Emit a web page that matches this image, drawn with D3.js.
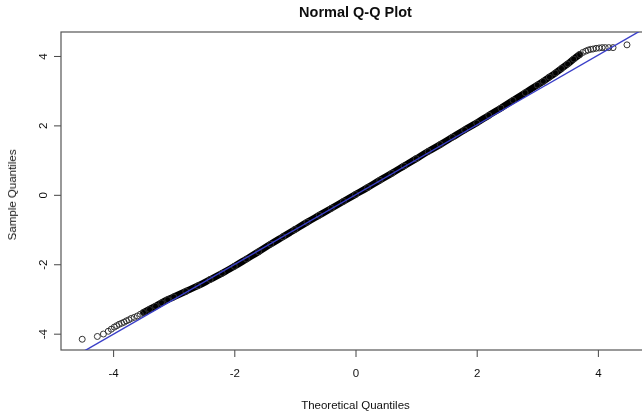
<!DOCTYPE html>
<html>
<head>
<meta charset="utf-8">
<script src="https://cdn.jsdelivr.net/npm/d3@7"></script>
<style>
  html, body { margin: 0; padding: 0; background: #fff; }
  svg { display: block; }
  text { font-family: "Liberation Sans", Arial, Helvetica, sans-serif; fill: #111; }
</style>
</head>
<body>
<svg id="chart" width="642" height="415"></svg>
<script>
// Normal Q-Q plot: theoretical normal quantiles against sample quantiles.
const theoretical = [
  -4.51, -4.26, -4.16, -4.08, -4.03, -3.98, -3.94, -3.90, -3.86, -3.82, -3.78, -3.74, -3.70,
  -3.65, -3.60, -3.55, -3.50, -3.40, -3.30, -3.20, -3.10, -3.00, -2.80, -2.60, -2.40, -2.20, -2.00,
  -1.80, -1.60, -1.40, -1.20, -1.00, -0.80, -0.60, -0.40, -0.20, 0.00,
  0.20, 0.40, 0.60, 0.80, 1.00, 1.20, 1.40, 1.60, 1.80, 2.00,
  2.20, 2.40, 2.60, 2.80, 3.00, 3.10, 3.20, 3.30, 3.40, 3.50, 3.60, 3.70,
  3.75, 3.80, 3.84, 3.88, 3.92, 3.97, 4.02, 4.07, 4.12, 4.18, 4.25, 4.48
];
const sample = [
  -4.16, -4.08, -4.01, -3.93, -3.87, -3.81, -3.77, -3.73, -3.70, -3.67, -3.63, -3.60, -3.56,
  -3.53, -3.49, -3.44, -3.39, -3.30, -3.21, -3.11, -3.02, -2.94, -2.78, -2.62, -2.44, -2.26, -2.06,
  -1.85, -1.64, -1.42, -1.21, -1.00, -0.79, -0.59, -0.39, -0.19, 0.01,
  0.21, 0.42, 0.62, 0.83, 1.04, 1.25, 1.45, 1.66, 1.87, 2.07,
  2.29, 2.50, 2.72, 2.94, 3.16, 3.27, 3.39, 3.51, 3.64, 3.77, 3.91, 4.04,
  4.10, 4.14, 4.17, 4.19, 4.20, 4.22, 4.23, 4.24, 4.24, 4.24, 4.24, 4.32
];
// Dense central stretch where the points merge into a solid band
const bandRange = [-3.50, 3.70];
// Reference line through the quartiles
const lineIntercept = 0.0;
const lineSlope = 1.005;

const xTicks = [-4, -2, 0, 2, 4];
const yTicks = [-4, -2, 0, 2, 4];
const titleText = "Normal Q-Q Plot";
const xTitle = "Theoretical Quantiles";
const yTitle = "Sample Quantiles";

const points = theoretical.map((t, i) => ({ t, s: sample[i] }));

const svg = d3.select("#chart");
const plot = { left: 61, right: 650, top: 32, bottom: 350 };

const x = d3.scaleLinear().domain([-4.86, 4.86]).range([plot.left, plot.right]);
const y = d3.scaleLinear().domain([-4.47, 4.69]).range([plot.bottom, plot.top]);

// Plain hyphen-minus tick labels
const tickFmt = d => String(d);

const defs = svg.append("defs");
defs.append("clipPath").attr("id", "plotClip")
  .append("rect")
  .attr("x", plot.left).attr("y", plot.top)
  .attr("width", plot.right - plot.left).attr("height", plot.bottom - plot.top);
// Slight softening of the whole drawing
defs.append("filter").attr("id", "soft")
  .append("feGaussianBlur").attr("stdDeviation", 0.45);

const root = svg.append("g").attr("filter", "url(#soft)");

// Axes
const xAxis = root.append("g")
  .attr("transform", `translate(0,${plot.bottom})`)
  .call(d3.axisBottom(x).tickValues(xTicks).tickSize(7).tickPadding(12).tickFormat(tickFmt));
xAxis.select(".domain").remove();
xAxis.selectAll("line").attr("stroke", "#444");
xAxis.selectAll("text").style("font-size", "11.5px").attr("fill", "#111");

const yAxis = root.append("g")
  .attr("transform", `translate(${plot.left},0)`)
  .call(d3.axisLeft(y).tickValues(yTicks).tickSize(7).tickFormat(tickFmt));
yAxis.select(".domain").remove();
yAxis.selectAll("line").attr("stroke", "#444");
yAxis.selectAll("text")
  .style("font-size", "11.5px")
  .attr("fill", "#111")
  .attr("x", null).attr("dy", null)
  .attr("text-anchor", "middle")
  .attr("transform", "translate(-18,0) rotate(-90)")
  .attr("y", 4);

// Plot frame
root.append("rect")
  .attr("x", plot.left).attr("y", plot.top)
  .attr("width", plot.right - plot.left).attr("height", plot.bottom - plot.top)
  .attr("fill", "none").attr("stroke", "#555").attr("stroke-width", 1.2);

const g = root.append("g").attr("clip-path", "url(#plotClip)");

// Solid band formed by the overlapping central points
const bandPts = points.filter(p => p.t >= bandRange[0] && p.t <= bandRange[1]);
g.append("path")
  .datum(bandPts)
  .attr("fill", "none")
  .attr("stroke", "#000")
  .attr("stroke-width", 6.8)
  .attr("stroke-linecap", "round")
  .attr("stroke-linejoin", "round")
  .attr("d", d3.line().x(d => x(d.t)).y(d => y(d.s)).curve(d3.curveMonotoneX));

// Individual points (open circles)
g.selectAll("circle.pt")
  .data(points)
  .join("circle")
  .attr("class", "pt")
  .attr("cx", d => x(d.t))
  .attr("cy", d => y(d.s))
  .attr("r", 3)
  .attr("fill", "none")
  .attr("stroke", "#333")
  .attr("stroke-width", 1);

// Reference line
const [x0, x1] = x.domain();
g.append("line")
  .attr("x1", x(x0)).attr("y1", y(lineIntercept + lineSlope * x0))
  .attr("x2", x(x1)).attr("y2", y(lineIntercept + lineSlope * x1))
  .attr("stroke", "#3a3fc8")
  .attr("stroke-width", 1.4);

// Titles
root.append("text")
  .attr("x", x(0)).attr("y", 17)
  .attr("text-anchor", "middle")
  .style("font-size", "14.5px").style("font-weight", "bold")
  .text(titleText);

root.append("text")
  .attr("x", x(0)).attr("y", 409)
  .attr("text-anchor", "middle")
  .style("font-size", "11.5px")
  .text(xTitle);

root.append("text")
  .attr("transform", `translate(16,${y(0)}) rotate(-90)`)
  .attr("text-anchor", "middle")
  .style("font-size", "11.5px")
  .text(yTitle);
</script>
</body>
</html>
